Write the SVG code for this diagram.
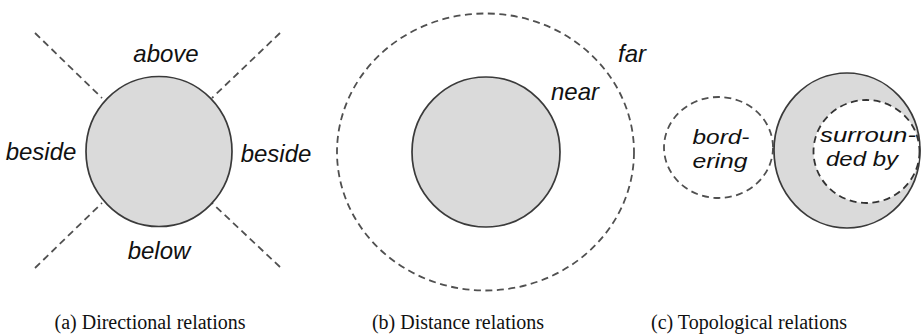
<svg xmlns="http://www.w3.org/2000/svg" width="924" height="336" viewBox="0 0 924 336">
<style>
.bg{fill:#ffffff}
.solid{fill:#dadada;stroke:#3a3a3a;stroke-width:1.7}
.dash{fill:none;stroke:#505050;stroke-width:1.8;stroke-dasharray:7 4.5}
.dashw{fill:#ffffff;stroke:#333333;stroke-width:1.8;stroke-dasharray:7 4.5}
.lbl{font-family:"Liberation Sans",Arial,sans-serif;font-style:italic;font-size:24px;fill:#111111;text-anchor:middle}
.lbl2{font-family:"Liberation Sans",Arial,sans-serif;font-style:italic;font-size:21px;fill:#111111;text-anchor:middle}
.cap{font-family:"Liberation Serif","Times New Roman",serif;font-size:20px;fill:#111111;text-anchor:middle}
</style>
<rect class="bg" x="0" y="0" width="924" height="336"/>

<g id="panel-a">
  <g id="dividers">
    <line class="dash" x1="35" y1="33" x2="102" y2="98"/>
    <line class="dash" x1="280" y1="33" x2="212" y2="98"/>
    <line class="dash" x1="35" y1="268" x2="102" y2="203"/>
    <line class="dash" x1="280" y1="267" x2="212" y2="203"/>
  </g>
  <g id="a-object">
    <ellipse class="solid" cx="159" cy="151.5" rx="73" ry="75"/>
  </g>
  <text class="lbl" x="166" y="62">above</text>
  <text class="lbl" x="41" y="160">beside</text>
  <text class="lbl" x="276" y="162">beside</text>
  <text class="lbl" x="159" y="259">below</text>
  <text class="cap" x="150" y="329">(a) Directional relations</text>
</g>

<g id="panel-b">
  <g id="b-far">
    <ellipse class="dash" cx="485.5" cy="152" rx="148.5" ry="138.5"/>
  </g>
  <g id="b-object">
    <ellipse class="solid" cx="486" cy="152" rx="74" ry="75"/>
  </g>
  <text class="lbl" x="575" y="100">near</text>
  <text class="lbl" x="632" y="62">far</text>
  <text class="cap" x="458" y="329">(b) Distance relations</text>
</g>

<g id="panel-c">
  <g id="c-bordering">
    <ellipse class="dash" cx="718.5" cy="147.5" rx="54.5" ry="50.5"/>
    <text class="lbl2" x="721" y="144" textLength="57" lengthAdjust="spacingAndGlyphs">bord-</text>
    <text class="lbl2" x="720" y="168" textLength="55" lengthAdjust="spacingAndGlyphs">ering</text>
  </g>
  <g id="c-object">
    <ellipse class="solid" cx="847" cy="150.5" rx="73" ry="77.5"/>
  </g>
  <g id="c-surrounded">
    <ellipse class="dashw" cx="866.5" cy="151.5" rx="53" ry="51.5"/>
    <text class="lbl2" x="868" y="142" textLength="96" lengthAdjust="spacingAndGlyphs">surroun-</text>
    <text class="lbl2" x="862" y="166" textLength="72" lengthAdjust="spacingAndGlyphs">ded by</text>
  </g>
  <text class="cap" x="749" y="329">(c) Topological relations</text>
</g>
</svg>
